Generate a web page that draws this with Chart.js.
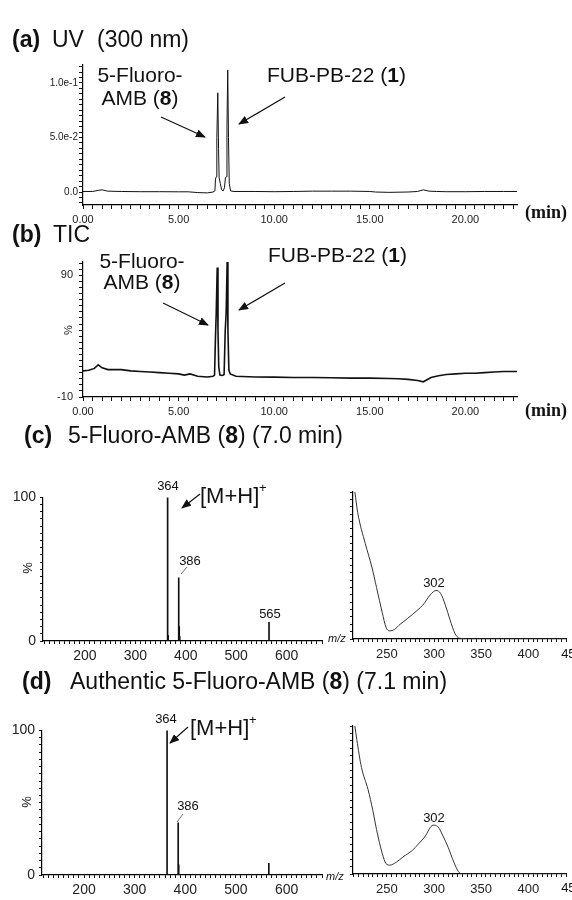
<!DOCTYPE html>
<html>
<head>
<meta charset="utf-8">
<script src="https://cdn.jsdelivr.net/npm/chart.js@4.4.1/dist/chart.umd.min.js"></script>
<style>
  html, body { margin: 0; padding: 0; background: #fff; }
  #page { position: relative; width: 572px; height: 900px; overflow: hidden; }
  canvas { position: absolute; }
  #notes { position: absolute; left: 0; top: 0; pointer-events: none; }
  #notes text { font-family: "Liberation Sans", Arial, sans-serif; fill: #111; }
</style>
</head>
<body>
<div id="page">
  <canvas id="uv-chart"></canvas>
  <canvas id="tic-chart"></canvas>
  <canvas id="ms-c"></canvas>
  <canvas id="spec-c"></canvas>
  <canvas id="ms-d"></canvas>
  <canvas id="spec-d"></canvas>

  <svg id="notes" width="572" height="900">
    <defs>
      <marker id="head" markerUnits="userSpaceOnUse" markerWidth="10" markerHeight="8" refX="9" refY="4" orient="auto">
        <path d="M0,0 L10,4 L0,8 z" fill="#111"/>
      </marker>
    </defs>

    <!-- titles -->
    <text x="12" y="47" font-size="23" font-weight="bold">(a)</text>
    <text x="52" y="47" font-size="23">UV</text>
    <text x="97" y="47" font-size="23">(300 nm)</text>

    <text x="12" y="242" font-size="23" font-weight="bold">(b)</text>
    <text x="53" y="242" font-size="23">TIC</text>

    <text x="24" y="443" font-size="23" font-weight="bold">(c)</text>
    <text x="68" y="443" font-size="23">5-Fluoro-AMB (<tspan font-weight="bold">8</tspan>) (7.0 min)</text>

    <text x="22" y="689" font-size="23" font-weight="bold">(d)</text>
    <text x="70" y="689" font-size="23">Authentic 5-Fluoro-AMB (<tspan font-weight="bold">8</tspan>) (7.1 min)</text>

    <!-- (a) peak notes -->
    <text x="140" y="82" font-size="21" text-anchor="middle">5-Fluoro-</text>
    <text x="140" y="105" font-size="21" text-anchor="middle">AMB (<tspan font-weight="bold">8</tspan>)</text>
    <text x="267" y="82" font-size="21">FUB-PB-22 (<tspan font-weight="bold">1</tspan>)</text>
    <line x1="161" y1="117" x2="205" y2="137" stroke="#111" stroke-width="1.2" marker-end="url(#head)"/>
    <line x1="285" y1="97" x2="239" y2="124" stroke="#111" stroke-width="1.2" marker-end="url(#head)"/>

    <!-- (b) peak notes -->
    <text x="142" y="268" font-size="21" text-anchor="middle">5-Fluoro-</text>
    <text x="142" y="289" font-size="21" text-anchor="middle">AMB (<tspan font-weight="bold">8</tspan>)</text>
    <text x="268" y="262" font-size="21">FUB-PB-22 (<tspan font-weight="bold">1</tspan>)</text>
    <line x1="163" y1="303" x2="208" y2="325" stroke="#111" stroke-width="1.2" marker-end="url(#head)"/>
    <line x1="285" y1="283" x2="239" y2="310" stroke="#111" stroke-width="1.2" marker-end="url(#head)"/>
    <text x="0" y="0" font-size="11" transform="translate(72 330) rotate(-90)" text-anchor="middle">%</text>

    <!-- unit labels -->
    <text x="525" y="218" font-size="18" font-weight="bold" style="font-family:'Liberation Serif','Times New Roman',serif">(min)</text>
    <text x="525" y="416" font-size="18" font-weight="bold" style="font-family:'Liberation Serif','Times New Roman',serif">(min)</text>
    <text x="328" y="642" font-size="11" font-style="italic">m/z</text>
    <text x="326" y="880" font-size="11" font-style="italic">m/z</text>
    <text x="572" y="658" font-size="13" text-anchor="middle" fill="#222">450</text>
    <text x="572" y="892" font-size="13" text-anchor="middle" fill="#222">450</text>

    <!-- (c) MS notes -->
    <text x="168" y="490" font-size="13" text-anchor="middle">364</text>
    <text x="200" y="503" font-size="22">[M+H]</text>
    <text x="259" y="492" font-size="13">+</text>
    <line x1="200" y1="494" x2="182" y2="508" stroke="#111" stroke-width="1.2" marker-end="url(#head)"/>
    <text x="190" y="565" font-size="13" text-anchor="middle">386</text>
    <line x1="181" y1="574" x2="187" y2="567" stroke="#444" stroke-width="0.8"/>
    <text x="270" y="618" font-size="13" text-anchor="middle">565</text>
    <text x="0" y="0" font-size="13" transform="translate(32 568) rotate(-90)" text-anchor="middle">%</text>
    <text x="434" y="587" font-size="13" text-anchor="middle">302</text>

    <!-- (d) MS notes -->
    <text x="166" y="723" font-size="13" text-anchor="middle">364</text>
    <text x="190" y="735" font-size="22">[M+H]</text>
    <text x="249" y="724" font-size="13">+</text>
    <line x1="188" y1="727" x2="170" y2="743" stroke="#111" stroke-width="1.2" marker-end="url(#head)"/>
    <text x="188" y="810" font-size="13" text-anchor="middle">386</text>
    <line x1="177" y1="822" x2="183" y2="814" stroke="#444" stroke-width="0.8"/>
    <text x="0" y="0" font-size="13" transform="translate(31 802) rotate(-90)" text-anchor="middle">%</text>
    <text x="434" y="822" font-size="13" text-anchor="middle">302</text>
  </svg>
</div>

<script>
// ===== Data =====
// (a) UV 300 nm chromatogram
const uvTime = [0, 0.5, 0.8, 1.0, 1.3, 2, 3, 4, 5, 5.5, 6, 6.5, 6.8, 6.9, 6.93, 6.97, 7.0, 7.05, 7.09, 7.12,
    7.18, 7.25, 7.33, 7.4, 7.45, 7.5, 7.53, 7.57, 7.61, 7.65, 7.72, 7.9, 9, 10, 11, 12, 13, 14, 15, 15.3,
    16, 17, 17.5, 17.8, 18.1, 18.5, 19, 20, 21, 22, 22.7];
const uvAbs = [0.0005, 0.0005, 0.0015, 0.002, 0.0008, 0.0005, 0.0003, 0.0003, 0.0002, 0.0002, -0.0005, -0.0008, 0, 0.001, 0.012, 0.014, 0.05, 0.091, 0.04, 0.013,
    0.008, 0.002, 0.001, 0.004, 0.013, 0.014, 0.06, 0.112, 0.05, 0.008, 0.001, 0.0005, 0.0005, 0.0003, 0.0005, 0.0008, 0.0008, 0.0008, 0.0005, 0,
    -0.0003, 0, 0.0005, 0.002, 0.0008, 0.0005, 0.0003, 0.0003, 0.0005, 0.0005, 0.0005];

// (b) total ion chromatogram, %
const ticTime = [0, 0.3, 0.6, 0.8, 1.0, 1.3, 2, 2.5, 3, 3.5, 4, 4.5, 5, 5.3, 5.6, 6, 6.5, 6.8, 6.88, 6.93,
    6.97, 7.02, 7.06, 7.1, 7.16, 7.3, 7.38, 7.44, 7.49, 7.54, 7.58, 7.63, 7.7, 8, 9, 10, 11, 12, 13, 14,
    15, 16, 16.5, 17, 17.5, 17.8, 18.2, 18.6, 19, 19.5, 20, 20.5, 21, 21.5, 22, 22.7];
const ticPct = [11.5, 12, 13.5, 16.5, 14, 12.5, 12.5, 11.5, 11, 10.5, 10, 9.5, 9, 8, 9, 7, 6.5, 7, 8, 40,
    60, 96.5, 45, 15, 8, 7.7, 8.5, 45, 60, 101, 45, 12, 9, 7, 6.5, 6.3, 6, 6, 5.8, 5.5,
    5.5, 5.2, 5, 4.5, 3.5, 2.5, 6, 7.5, 8.5, 9, 9.5, 9.5, 10, 10.5, 11, 11];

// (c) mass spectrum at 7.0 min
const msCMz = [364, 365, 386, 387, 388, 565];
const msCInt = [100, 4, 44, 10, 3, 13];
// (d) authentic standard mass spectrum
const msDMz = [364, 386, 387, 565];
const msDInt = [100, 36, 7, 8];

// UV spectra (nm, relative absorbance)
const specCWl = [216, 219, 227, 234, 239, 245, 249, 253, 258, 264, 272, 283, 288, 296, 302, 307, 312, 317, 322, 327, 340, 440];
const specCAbs = [100, 86, 65, 49, 35, 18, 8, 5.5, 6.5, 10, 14, 20, 23, 30, 33, 31, 23, 13, 4, 0.5, 0, 0];
const specDWl = [216, 218, 223, 230, 235, 239, 245, 249, 253, 260, 267, 277, 283, 290, 299, 304, 310, 315, 321, 326, 330, 440];
const specDAbs = [100, 91, 72, 57, 43, 30, 14, 7, 6, 8, 11.5, 16, 20, 25, 33, 32, 25, 18, 8, 1.5, 0, 0];

// tick labels
const uvYLabels = { "0": "0.0", "0.05": "5.0e-2", "0.1": "1.0e-1" };
const ticYLabels = { "90": "90", "-10": "-10" };
const msYLabels = { "0": "0", "100": "100" };

// ===== Helpers =====
const FONT = '"Liberation Sans", Arial, sans-serif';

function steps(from, to, step) {
    const out = [];
    for (let i = 0; from + i * step <= to + 1e-9; i++) out.push(+(from + i * step).toFixed(6));
    return out;
}
const isMultiple = (v, m) => Math.abs(v / m - Math.round(v / m)) < 1e-6;
const pts = (xs, ys) => xs.map((x, i) => ({ x: x, y: ys[i] }));

function makeScale(o) {
    return {
        type: "linear", min: o.min, max: o.max, offset: false,
        afterBuildTicks: s => { s.ticks = o.ticks.map(v => ({ value: v })); },
        afterFit: s => {
            if (o.width != null) s.width = o.width;
            if (o.height != null) s.height = o.height;
        },
        grid: { display: true, drawOnChartArea: false, drawTicks: true, tickLength: o.tickLength || 4, color: "#111", lineWidth: 1, offset: false },
        border: { display: true, color: "#000", width: 1.2 },
        ticks: {
            autoSkip: false, maxRotation: 0, minRotation: 0, padding: o.padding, color: "#222",
            font: { family: FONT, size: o.size },
            callback: v => o.label(v)
        }
    };
}

// cb = canvas box in page px, area = wanted plot area in page px
function build(id, cb, area, type, datasets, xs, ys) {
    const c = document.getElementById(id);
    c.width = cb.w; c.height = cb.h;
    c.style.left = cb.x + "px"; c.style.top = cb.y + "px";
    c.style.width = cb.w + "px"; c.style.height = cb.h + "px";
    xs.height = cb.y + cb.h - area.b;
    ys.width = area.l - cb.x;
    return new Chart(c, {
        type: type,
        data: { datasets: datasets },
        options: {
            responsive: false, animation: false, devicePixelRatio: 1, events: [],
            layout: { padding: { left: 0, top: area.t - cb.y, right: cb.x + cb.w - area.r, bottom: 0 } },
            plugins: { legend: { display: false }, tooltip: { enabled: false } },
            scales: { x: makeScale(xs), y: makeScale(ys) }
        }
    });
}

const lineSet = (xs, ys, w, col) => ({
    data: pts(xs, ys), borderColor: col, borderWidth: w, pointRadius: 0, tension: 0, fill: false, clip: false
});
const specSet = (xs, ys) => ({
    data: pts(xs, ys), borderColor: "#333", borderWidth: 1, pointRadius: 0,
    cubicInterpolationMode: "monotone", fill: false
});
const barSet = (xs, ys) => ({
    data: pts(xs, ys), backgroundColor: "#111", barThickness: 1, borderWidth: 0
});

const timeAxis = () => ({
    min: 0, max: 22.7, ticks: steps(0, 22.5, 0.5), size: 11, padding: 4,
    label: v => (isMultiple(v, 5) ? v.toFixed(2) : "")
});
const mzAxis = () => ({
    min: 117, max: 670, ticks: steps(120, 670, 10), size: 14, padding: 4, tickLength: 3,
    label: v => (isMultiple(v, 100) && v >= 200 ? String(Math.round(v)) : "")
});
const msYAxis = () => ({
    min: 0, max: 100, ticks: steps(0, 100, 5), size: 14, padding: 4, tickLength: 3,
    label: v => msYLabels[String(Math.round(v))] && isMultiple(v, 100) ? msYLabels[String(Math.round(v))] : ""
});
const nmAxis = () => ({
    min: 214, max: 440, ticks: steps(215, 440, 5), size: 13, padding: 5, tickLength: 3,
    label: v => (isMultiple(v, 50) ? String(Math.round(v)) : "")
});
const specYAxis = () => ({
    min: 0, max: 100, ticks: steps(0, 100, 5), size: 12, padding: 2, tickLength: 3, label: () => ""
});

// ===== Charts =====
build("uv-chart", { x: 0, y: 55, w: 530, h: 175 }, { l: 83, t: 65, r: 517, b: 205 }, "line",
    [lineSet(uvTime, uvAbs, 1, "#111")],
    timeAxis(),
    {
        min: -0.0119, max: 0.1165, ticks: steps(-0.01, 0.115, 0.005), size: 10, padding: 1,
        label: v => {
            const key = Object.keys(uvYLabels).find(k => Math.abs(+k - v) < 1e-6);
            return key ? uvYLabels[key] : "";
        }
    });

build("tic-chart", { x: 0, y: 249, w: 530, h: 175 }, { l: 83, t: 259, r: 517, b: 397 }, "line",
    [lineSet(ticTime, ticPct, 1.6, "#111")],
    timeAxis(),
    {
        min: -10, max: 101.3, ticks: steps(-10, 100, 5), size: 11, padding: 6,
        label: v => ticYLabels[String(Math.round(v))] && isMultiple(v, 1) ? ticYLabels[String(Math.round(v))] : ""
    });

build("ms-c", { x: 0, y: 485, w: 335, h: 184 }, { l: 43, t: 495, r: 322, b: 641 }, "bar",
    [barSet(msCMz, msCInt)], mzAxis(), msYAxis());

build("ms-d", { x: 0, y: 718, w: 335, h: 182 }, { l: 42, t: 728, r: 322, b: 875 }, "bar",
    [barSet(msDMz, msDInt)], mzAxis(), msYAxis());

build("spec-c", { x: 300, y: 482, w: 272, h: 187 }, { l: 353, t: 492, r: 566, b: 639 }, "line",
    [specSet(specCWl, specCAbs)], nmAxis(), specYAxis());

build("spec-d", { x: 300, y: 716, w: 272, h: 184 }, { l: 353, t: 726, r: 566, b: 874 }, "line",
    [specSet(specDWl, specDAbs)], nmAxis(), specYAxis());
</script>
</body>
</html>
